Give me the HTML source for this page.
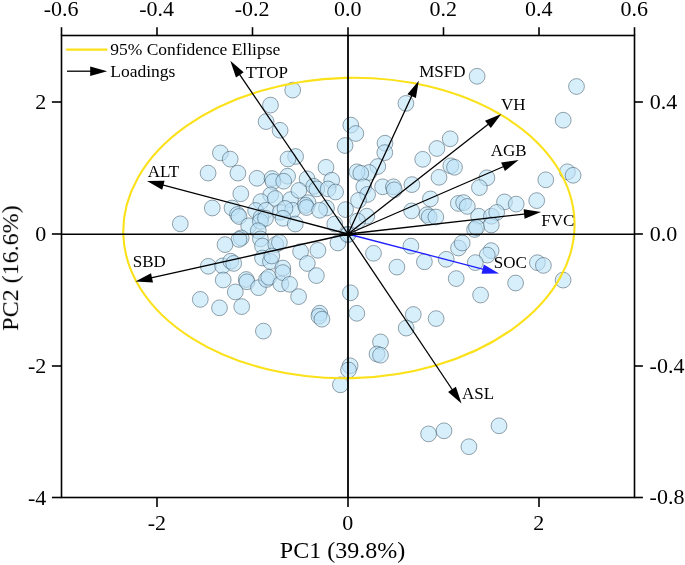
<!DOCTYPE html><html><head><meta charset="utf-8"><style>html,body{margin:0;padding:0;background:#fff}svg{display:block}text{font-family:"Liberation Serif",serif;fill:#000}</style></head><body>
<svg width="685" height="565" viewBox="0 0 685 565">
<rect width="685" height="565" fill="#fff"/>
<g fill="#bde3f8" fill-opacity="0.6" stroke="#2a4150" stroke-opacity="0.6" stroke-width="0.8">
<circle cx="270.5" cy="105.1" r="7.9"/>
<circle cx="266.1" cy="121.6" r="7.9"/>
<circle cx="280.1" cy="130.3" r="7.9"/>
<circle cx="220.4" cy="152.9" r="7.9"/>
<circle cx="230.2" cy="159.1" r="7.9"/>
<circle cx="292.7" cy="90.1" r="7.9"/>
<circle cx="295.6" cy="156.5" r="7.9"/>
<circle cx="288" cy="159" r="7.9"/>
<circle cx="350.8" cy="125.1" r="7.9"/>
<circle cx="355.8" cy="133.5" r="7.9"/>
<circle cx="345.1" cy="145.5" r="7.9"/>
<circle cx="385" cy="143.2" r="7.9"/>
<circle cx="384.8" cy="152.6" r="7.9"/>
<circle cx="326" cy="167.3" r="7.9"/>
<circle cx="477.1" cy="76.3" r="7.9"/>
<circle cx="405.9" cy="103.4" r="7.9"/>
<circle cx="450.2" cy="138.8" r="7.9"/>
<circle cx="436.9" cy="148.5" r="7.9"/>
<circle cx="422.7" cy="159.3" r="7.9"/>
<circle cx="576.5" cy="86.5" r="7.9"/>
<circle cx="563.2" cy="120.2" r="7.9"/>
<circle cx="208.1" cy="173.1" r="7.9"/>
<circle cx="237.9" cy="173.1" r="7.9"/>
<circle cx="257" cy="178.3" r="7.9"/>
<circle cx="240.8" cy="193.8" r="7.9"/>
<circle cx="212.3" cy="208" r="7.9"/>
<circle cx="232" cy="208" r="7.9"/>
<circle cx="237.5" cy="214.5" r="7.9"/>
<circle cx="239" cy="216.5" r="7.9"/>
<circle cx="180.3" cy="223.8" r="7.9"/>
<circle cx="272" cy="178.5" r="7.9"/>
<circle cx="273" cy="181.5" r="7.9"/>
<circle cx="287.6" cy="176.2" r="7.9"/>
<circle cx="283.7" cy="181.2" r="7.9"/>
<circle cx="270.7" cy="194.9" r="7.9"/>
<circle cx="260.9" cy="201.6" r="7.9"/>
<circle cx="275.3" cy="198.5" r="7.9"/>
<circle cx="290.5" cy="199.6" r="7.9"/>
<circle cx="255.6" cy="210.5" r="7.9"/>
<circle cx="266" cy="210.3" r="7.9"/>
<circle cx="280.2" cy="212.3" r="7.9"/>
<circle cx="261" cy="217.5" r="7.9"/>
<circle cx="292.5" cy="210.2" r="7.9"/>
<circle cx="307.1" cy="178.8" r="7.9"/>
<circle cx="331.7" cy="180.2" r="7.9"/>
<circle cx="313.7" cy="186.3" r="7.9"/>
<circle cx="316.8" cy="188.9" r="7.9"/>
<circle cx="328.1" cy="188.9" r="7.9"/>
<circle cx="335.6" cy="192" r="7.9"/>
<circle cx="298.9" cy="190.4" r="7.9"/>
<circle cx="308.1" cy="202.7" r="7.9"/>
<circle cx="305.5" cy="205.3" r="7.9"/>
<circle cx="306.5" cy="207.5" r="7.9"/>
<circle cx="326.5" cy="208" r="7.9"/>
<circle cx="345.6" cy="209.6" r="7.9"/>
<circle cx="319.6" cy="210.3" r="7.9"/>
<circle cx="285" cy="208.4" r="7.9"/>
<circle cx="377.8" cy="166.5" r="7.9"/>
<circle cx="369" cy="172.5" r="7.9"/>
<circle cx="357" cy="171.8" r="7.9"/>
<circle cx="360.8" cy="173.3" r="7.9"/>
<circle cx="363.8" cy="186.8" r="7.9"/>
<circle cx="367.6" cy="194.4" r="7.9"/>
<circle cx="358.5" cy="200.4" r="7.9"/>
<circle cx="382.6" cy="186.8" r="7.9"/>
<circle cx="393.4" cy="186.8" r="7.9"/>
<circle cx="394.3" cy="189.8" r="7.9"/>
<circle cx="411.9" cy="184.6" r="7.9"/>
<circle cx="439" cy="177.3" r="7.9"/>
<circle cx="430.4" cy="198.9" r="7.9"/>
<circle cx="411.6" cy="210.9" r="7.9"/>
<circle cx="427" cy="214.7" r="7.9"/>
<circle cx="429.2" cy="216.9" r="7.9"/>
<circle cx="435.8" cy="217" r="7.9"/>
<circle cx="366.8" cy="216.2" r="7.9"/>
<circle cx="357.6" cy="221" r="7.9"/>
<circle cx="450.8" cy="165.8" r="7.9"/>
<circle cx="454.5" cy="167.3" r="7.9"/>
<circle cx="486.9" cy="177.8" r="7.9"/>
<circle cx="479.4" cy="187.6" r="7.9"/>
<circle cx="458.3" cy="203.4" r="7.9"/>
<circle cx="463.6" cy="202.6" r="7.9"/>
<circle cx="467.3" cy="206.4" r="7.9"/>
<circle cx="504.5" cy="201.9" r="7.9"/>
<circle cx="516.2" cy="204.1" r="7.9"/>
<circle cx="478.6" cy="216.2" r="7.9"/>
<circle cx="491.4" cy="216.2" r="7.9"/>
<circle cx="496.7" cy="212.4" r="7.9"/>
<circle cx="491.3" cy="225" r="7.9"/>
<circle cx="474.6" cy="229.5" r="7.9"/>
<circle cx="476.5" cy="227.5" r="7.9"/>
<circle cx="545.8" cy="179.8" r="7.9"/>
<circle cx="567.4" cy="171.8" r="7.9"/>
<circle cx="573.1" cy="175.3" r="7.9"/>
<circle cx="536.7" cy="200.6" r="7.9"/>
<circle cx="248.7" cy="225.8" r="7.9"/>
<circle cx="241.2" cy="237.9" r="7.9"/>
<circle cx="239" cy="239.4" r="7.9"/>
<circle cx="225" cy="244.6" r="7.9"/>
<circle cx="208.3" cy="266.3" r="7.9"/>
<circle cx="222.6" cy="265.9" r="7.9"/>
<circle cx="230.7" cy="261.2" r="7.9"/>
<circle cx="233.7" cy="263.4" r="7.9"/>
<circle cx="260.4" cy="221.4" r="7.9"/>
<circle cx="265.5" cy="218.3" r="7.9"/>
<circle cx="258.3" cy="230.7" r="7.9"/>
<circle cx="283" cy="218.3" r="7.9"/>
<circle cx="295.3" cy="224" r="7.9"/>
<circle cx="260.4" cy="238.9" r="7.9"/>
<circle cx="262.5" cy="246.1" r="7.9"/>
<circle cx="275.8" cy="244.5" r="7.9"/>
<circle cx="279.4" cy="242.5" r="7.9"/>
<circle cx="300.6" cy="251.6" r="7.9"/>
<circle cx="317.9" cy="250.3" r="7.9"/>
<circle cx="262.5" cy="258" r="7.9"/>
<circle cx="270.4" cy="261.5" r="7.9"/>
<circle cx="271.8" cy="256" r="7.9"/>
<circle cx="307.3" cy="263.5" r="7.9"/>
<circle cx="334.8" cy="224" r="7.9"/>
<circle cx="347.6" cy="234.3" r="7.9"/>
<circle cx="337.9" cy="243" r="7.9"/>
<circle cx="373.5" cy="253.3" r="7.9"/>
<circle cx="410.9" cy="246.1" r="7.9"/>
<circle cx="396.9" cy="267.1" r="7.9"/>
<circle cx="424.4" cy="261.8" r="7.9"/>
<circle cx="446.2" cy="259.3" r="7.9"/>
<circle cx="456.2" cy="278.6" r="7.9"/>
<circle cx="458.5" cy="248" r="7.9"/>
<circle cx="462.2" cy="243" r="7.9"/>
<circle cx="491.1" cy="250.6" r="7.9"/>
<circle cx="487.3" cy="255.1" r="7.9"/>
<circle cx="475.3" cy="262.6" r="7.9"/>
<circle cx="480.6" cy="295" r="7.9"/>
<circle cx="515.6" cy="283" r="7.9"/>
<circle cx="537.4" cy="262.7" r="7.9"/>
<circle cx="543.4" cy="265.4" r="7.9"/>
<circle cx="563.1" cy="280.1" r="7.9"/>
<circle cx="223.2" cy="280" r="7.9"/>
<circle cx="246.2" cy="279.5" r="7.9"/>
<circle cx="246.9" cy="281.8" r="7.9"/>
<circle cx="235.3" cy="291.9" r="7.9"/>
<circle cx="258.5" cy="287.7" r="7.9"/>
<circle cx="266.5" cy="279.5" r="7.9"/>
<circle cx="268.7" cy="277.3" r="7.9"/>
<circle cx="200.3" cy="299.4" r="7.9"/>
<circle cx="219.5" cy="307.8" r="7.9"/>
<circle cx="241.7" cy="306.6" r="7.9"/>
<circle cx="263.4" cy="331.1" r="7.9"/>
<circle cx="280.8" cy="283.8" r="7.9"/>
<circle cx="316.4" cy="275.6" r="7.9"/>
<circle cx="282.8" cy="268" r="7.9"/>
<circle cx="282.8" cy="272.6" r="7.9"/>
<circle cx="289.6" cy="284.3" r="7.9"/>
<circle cx="298.6" cy="296.6" r="7.9"/>
<circle cx="319.7" cy="313.2" r="7.9"/>
<circle cx="318.9" cy="316.2" r="7.9"/>
<circle cx="321.9" cy="319.2" r="7.9"/>
<circle cx="350.4" cy="292.8" r="7.9"/>
<circle cx="356.8" cy="313.3" r="7.9"/>
<circle cx="413.3" cy="314.5" r="7.9"/>
<circle cx="406.2" cy="328.1" r="7.9"/>
<circle cx="436.1" cy="318.6" r="7.9"/>
<circle cx="380.5" cy="341.9" r="7.9"/>
<circle cx="377" cy="354" r="7.9"/>
<circle cx="380.5" cy="355.2" r="7.9"/>
<circle cx="350.1" cy="365.8" r="7.9"/>
<circle cx="348.5" cy="370" r="7.9"/>
<circle cx="340.4" cy="384.8" r="7.9"/>
<circle cx="428.6" cy="433.9" r="7.9"/>
<circle cx="444" cy="430.8" r="7.9"/>
<circle cx="468.9" cy="446.7" r="7.9"/>
<circle cx="499" cy="425.8" r="7.9"/>
<circle cx="347.9" cy="234.6" r="7.9"/>
</g>
<ellipse cx="348.9" cy="228" rx="225.7" ry="150.2" transform="rotate(-1.48 348.9 228)" fill="none" stroke="#fbe11a" stroke-width="2.1"/>
<rect x="61.5" y="35.5" width="573.0" height="462.0" fill="none" stroke="#000" stroke-width="1.6"/>
<line x1="61.5" y1="234.3" x2="634.5" y2="234.3" stroke="#000" stroke-width="1.5"/>
<line x1="348" y1="35.5" x2="348" y2="497.5" stroke="#000" stroke-width="1.8"/>
<g stroke="#000" stroke-width="1.6"><line x1="61.5" y1="35.5" x2="61.5" y2="27.2"/><line x1="157.0" y1="35.5" x2="157.0" y2="27.2"/><line x1="252.5" y1="35.5" x2="252.5" y2="27.2"/><line x1="348.0" y1="35.5" x2="348.0" y2="27.2"/><line x1="443.5" y1="35.5" x2="443.5" y2="27.2"/><line x1="539.0" y1="35.5" x2="539.0" y2="27.2"/><line x1="634.5" y1="35.5" x2="634.5" y2="27.2"/><line x1="157" y1="497.5" x2="157" y2="507.1"/><line x1="348" y1="497.5" x2="348" y2="507.1"/><line x1="539" y1="497.5" x2="539" y2="507.1"/><line x1="61.5" y1="102" x2="51.9" y2="102"/><line x1="634.5" y1="102" x2="642.9" y2="102"/><line x1="61.5" y1="234" x2="51.9" y2="234"/><line x1="634.5" y1="234" x2="642.9" y2="234"/><line x1="61.5" y1="366" x2="51.9" y2="366"/><line x1="634.5" y1="366" x2="642.9" y2="366"/><line x1="61.5" y1="497.5" x2="51.9" y2="497.5"/><line x1="634.5" y1="497.5" x2="642.9" y2="497.5"/></g>
<line x1="66.8" y1="49.6" x2="106.6" y2="49.6" stroke="#fbe11a" stroke-width="2.1" stroke-linecap="round"/>
<line x1="67" y1="71.2" x2="92.2" y2="71.2" stroke="#000" stroke-width="1.3"/><polygon points="107.2,71.2 90.2,75.9 90.2,66.5" fill="#000"/>
<line x1="348" y1="234" x2="484.6" y2="269.6" stroke="#1f1fff" stroke-width="1.3"/><polygon points="499.1,273.4 481.5,273.7 483.8,264.6" fill="#1f1fff"/>
<line x1="348" y1="234" x2="238.7" y2="73.2" stroke="#000" stroke-width="1.3"/><polygon points="230.3,60.8 243.7,72.2 236.0,77.5" fill="#000"/>
<line x1="348" y1="234" x2="161.5" y2="184.7" stroke="#000" stroke-width="1.3"/><polygon points="147.0,180.9 164.6,180.7 162.2,189.8" fill="#000"/>
<line x1="348" y1="234" x2="150.0" y2="278.2" stroke="#000" stroke-width="1.3"/><polygon points="135.4,281.5 151.0,273.2 153.0,282.4" fill="#000"/>
<line x1="348" y1="234" x2="412.5" y2="94.3" stroke="#000" stroke-width="1.3"/><polygon points="418.8,80.7 415.9,98.1 407.4,94.2" fill="#000"/>
<line x1="348" y1="234" x2="489.5" y2="123.2" stroke="#000" stroke-width="1.3"/><polygon points="501.3,113.9 490.8,128.1 485.0,120.7" fill="#000"/>
<line x1="348" y1="234" x2="504.8" y2="166.0" stroke="#000" stroke-width="1.3"/><polygon points="518.6,160.0 504.9,171.1 501.1,162.5" fill="#000"/>
<line x1="348" y1="234" x2="526.1" y2="213.8" stroke="#000" stroke-width="1.3"/><polygon points="541.0,212.1 524.6,218.7 523.6,209.3" fill="#000"/>
<line x1="348" y1="234" x2="453.2" y2="391.0" stroke="#000" stroke-width="1.3"/><polygon points="461.5,403.5 448.1,392.0 455.9,386.8" fill="#000"/>
<ellipse cx="347.5" cy="234.2" rx="7" ry="1.7" fill="#000"/>
<g style="filter:grayscale(1)"><text x="61.2" y="15.8" font-size="22" text-anchor="middle">-0.6</text><text x="156.7" y="15.8" font-size="22" text-anchor="middle">-0.4</text><text x="252.2" y="15.8" font-size="22" text-anchor="middle">-0.2</text><text x="347.7" y="15.8" font-size="22" text-anchor="middle">0.0</text><text x="443.2" y="15.8" font-size="22" text-anchor="middle">0.2</text><text x="538.7" y="15.8" font-size="22" text-anchor="middle">0.4</text><text x="634.2" y="15.8" font-size="22" text-anchor="middle">0.6</text><text x="156.8" y="530.2" font-size="22" text-anchor="middle">-2</text><text x="347.8" y="530.2" font-size="22" text-anchor="middle">0</text><text x="538.8" y="530.2" font-size="22" text-anchor="middle">2</text><text x="46.3" y="109.1" font-size="22" text-anchor="end">2</text><text x="46.3" y="241.1" font-size="22" text-anchor="end">0</text><text x="46.3" y="373.1" font-size="22" text-anchor="end">-2</text><text x="46.3" y="504.6" font-size="22" text-anchor="end">-4</text><text x="649.8" y="108.9" font-size="22">0.4</text><text x="649.8" y="240.9" font-size="22">0.0</text><text x="649.6" y="372.9" font-size="22">-0.4</text><text x="649.6" y="504.4" font-size="22">-0.8</text><text x="342.5" y="558.3" font-size="24" text-anchor="middle">PC1 (39.8%)</text><text transform="translate(18.1,268.1) rotate(-90)" font-size="24" text-anchor="middle">PC2 (16.6%)</text><text x="110.2" y="54.9" font-size="17.5">95% Confidence Ellipse</text><text x="110.2" y="77.2" font-size="17.5">Loadings</text><text x="245.70" y="77.70" font-size="17">TTOP</text><text x="147.70" y="176.60" font-size="17">ALT</text><text x="132.80" y="267.30" font-size="17">SBD</text><text x="419.20" y="76.80" font-size="17">MSFD</text><text x="500.90" y="110.10" font-size="17">VH</text><text x="490.80" y="156.30" font-size="17">AGB</text><text x="541.20" y="225.60" font-size="17">FVC</text><text x="493.80" y="267.90" font-size="17">SOC</text><text x="462.00" y="398.90" font-size="17">ASL</text></g>
</svg></body></html>
